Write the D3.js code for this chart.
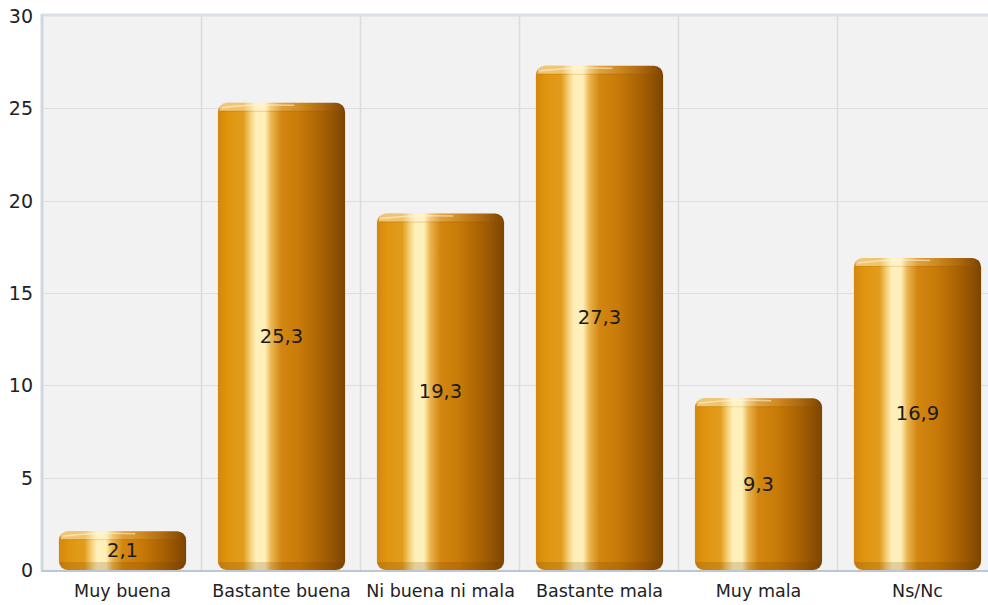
<!DOCTYPE html>
<html><head><meta charset="utf-8">
<script src="https://cdn.jsdelivr.net/npm/d3@7"></script>
<style>html,body{margin:0;padding:0;background:#fff;}svg{display:block;}</style>
</head><body>
<svg id="c" width="988" height="605"></svg>
<script>
const categories = ["Muy buena","Bastante buena","Ni buena ni mala","Bastante mala","Muy mala","Ns/Nc"];
const values = [2.1, 25.3, 19.3, 27.3, 9.3, 16.9];
const valueLabels = ["2,1","25,3","19,3","27,3","9,3","16,9"];
const yTicks = [0,5,10,15,20,25,30];

const svg = d3.select("#c");
const L = 43, T = 16, B = 570, R = 997;
const x = d3.scaleBand().domain(categories).range([L, R]).paddingInner(0.2).paddingOuter(0.1);
const y = d3.scaleLinear().domain([0, 30]).range([B, T]);
const FONT = "DejaVu Sans, Verdana, sans-serif";

const defs = svg.append("defs");
const g = defs.append("linearGradient").attr("id","barG").attr("x1","0").attr("x2","1").attr("y1","0").attr("y2","0");
[[0,"#d4870e"],[0.08,"#e0950f"],[0.2,"#e29c1c"],[0.26,"#f6d37e"],[0.3,"#fff0bc"],[0.37,"#ffefb8"],[0.42,"#eab550"],[0.5,"#d38610"],[0.65,"#c77a07"],[0.82,"#a86104"],[0.93,"#8e5002"],[1,"#7c4500"]]
  .forEach(s=>g.append("stop").attr("offset",s[0]).attr("stop-color",s[1]));
const cap = defs.append("linearGradient").attr("id","capG").attr("x1","0").attr("x2","1").attr("y1","0").attr("y2","0");
[[0,"#fff6d8",0.55],[0.35,"#fff6d8",0.35],[0.7,"#fff6d8",0.1],[1,"#fff6d8",0.0]].forEach(s=>cap.append("stop").attr("offset",s[0]).attr("stop-color",s[1]).attr("stop-opacity",s[2]));

// plot background
svg.append("rect").attr("x",L).attr("y",T).attr("width",988-L).attr("height",B-T).attr("fill","#f2f2f2");

// horizontal grid
svg.append("g").selectAll("line").data(yTicks.filter(d=>d>0 && d<30)).join("line")
  .attr("x1",L).attr("x2",988).attr("y1",d=>Math.round(y(d))+0.5).attr("y2",d=>Math.round(y(d))+0.5)
  .attr("stroke","#dedede").attr("stroke-width",1.2);
// vertical grid at category boundaries
const step = x.step();
svg.append("g").selectAll("line").data(categories.slice(1)).join("line")
  .attr("x1",d=>x(d)-step*0.1-0.5).attr("x2",d=>x(d)-step*0.1-0.5).attr("y1",T).attr("y2",B)
  .attr("stroke","#dcdcdc").attr("stroke-width",1.5);

// border top/left
svg.append("line").attr("x1",L-1).attr("x2",988).attr("y1",T-1).attr("y2",T-1).attr("stroke","#d9dfe6").attr("stroke-width",3);
svg.append("line").attr("x1",L-1).attr("x2",L-1).attr("y1",T-2).attr("y2",B).attr("stroke","#d0d8e2").attr("stroke-width",3);
svg.append("line").attr("x1",L-2).attr("x2",988).attr("y1",B+1).attr("y2",B+1).attr("stroke","#bcc6d6").attr("stroke-width",2);

// bars
const bars = svg.append("g").selectAll("g").data(categories).join("g");
bars.each(function(d,i){
  const gg = d3.select(this);
  const x0 = x(d), w = x.bandwidth(), t = y(values[i]), h = B - t;
  gg.append("rect").attr("x",x0).attr("y",t).attr("width",w).attr("height",h)
    .attr("rx",9).attr("ry",9).attr("fill","url(#barG)");
  // bottom darker band
  gg.append("path").attr("d",`M${x0},${B-8} L${x0+w},${B-8} L${x0+w},${B-9} Q${x0+w},${B} ${x0+w-9},${B} L${x0+9},${B} Q${x0},${B} ${x0},${B-9} Z`)
    .attr("fill","#6a3a00").attr("opacity",0.18);
  // top cap
  gg.append("path").attr("d",`M${x0+2},${t+8} Q${x0},${t} ${x0+9},${t} L${x0+w-9},${t} Q${x0+w},${t} ${x0+w-2},${t+8} Z`)
    .attr("fill","url(#capG)");
  gg.append("path").attr("d",`M${x0+4},${t+5} Q${x0+w*0.25},${t+1} ${x0+w*0.6},${t+2.5}`)
    .attr("fill","none").attr("stroke","#fff8e0").attr("stroke-opacity",0.55).attr("stroke-width",1.5);
  gg.append("line").attr("x1",x0+3).attr("x2",x0+w-3).attr("y1",t+8.5).attr("y2",t+8.5)
    .attr("stroke","#8a5000").attr("stroke-opacity",0.15).attr("stroke-width",1.2);
});

// value labels
svg.append("g").selectAll("text").data(categories).join("text")
  .attr("x",d=>x(d)+x.bandwidth()/2).attr("y",(d,i)=>(y(values[i])+B)/2)
  .attr("text-anchor","middle").attr("dominant-baseline","central")
  .attr("font-family",FONT).attr("font-size",19.5).attr("fill","#1a1a1a")
  .text((d,i)=>valueLabels[i]);

// y axis labels
svg.append("g").selectAll("text").data(yTicks).join("text")
  .attr("x",33).attr("y",d=>y(d)).attr("text-anchor","end").attr("dominant-baseline","central")
  .attr("font-family",FONT).attr("font-size",19).attr("fill","#222")
  .text(d=>d);

// x axis labels
svg.append("g").selectAll("text").data(categories).join("text")
  .attr("x",d=>x(d)+x.bandwidth()/2).attr("y",591).attr("text-anchor","middle").attr("dominant-baseline","central")
  .attr("font-family",FONT).attr("font-size",17.5).attr("fill","#222")
  .text(d=>d);
</script>
</body></html>
